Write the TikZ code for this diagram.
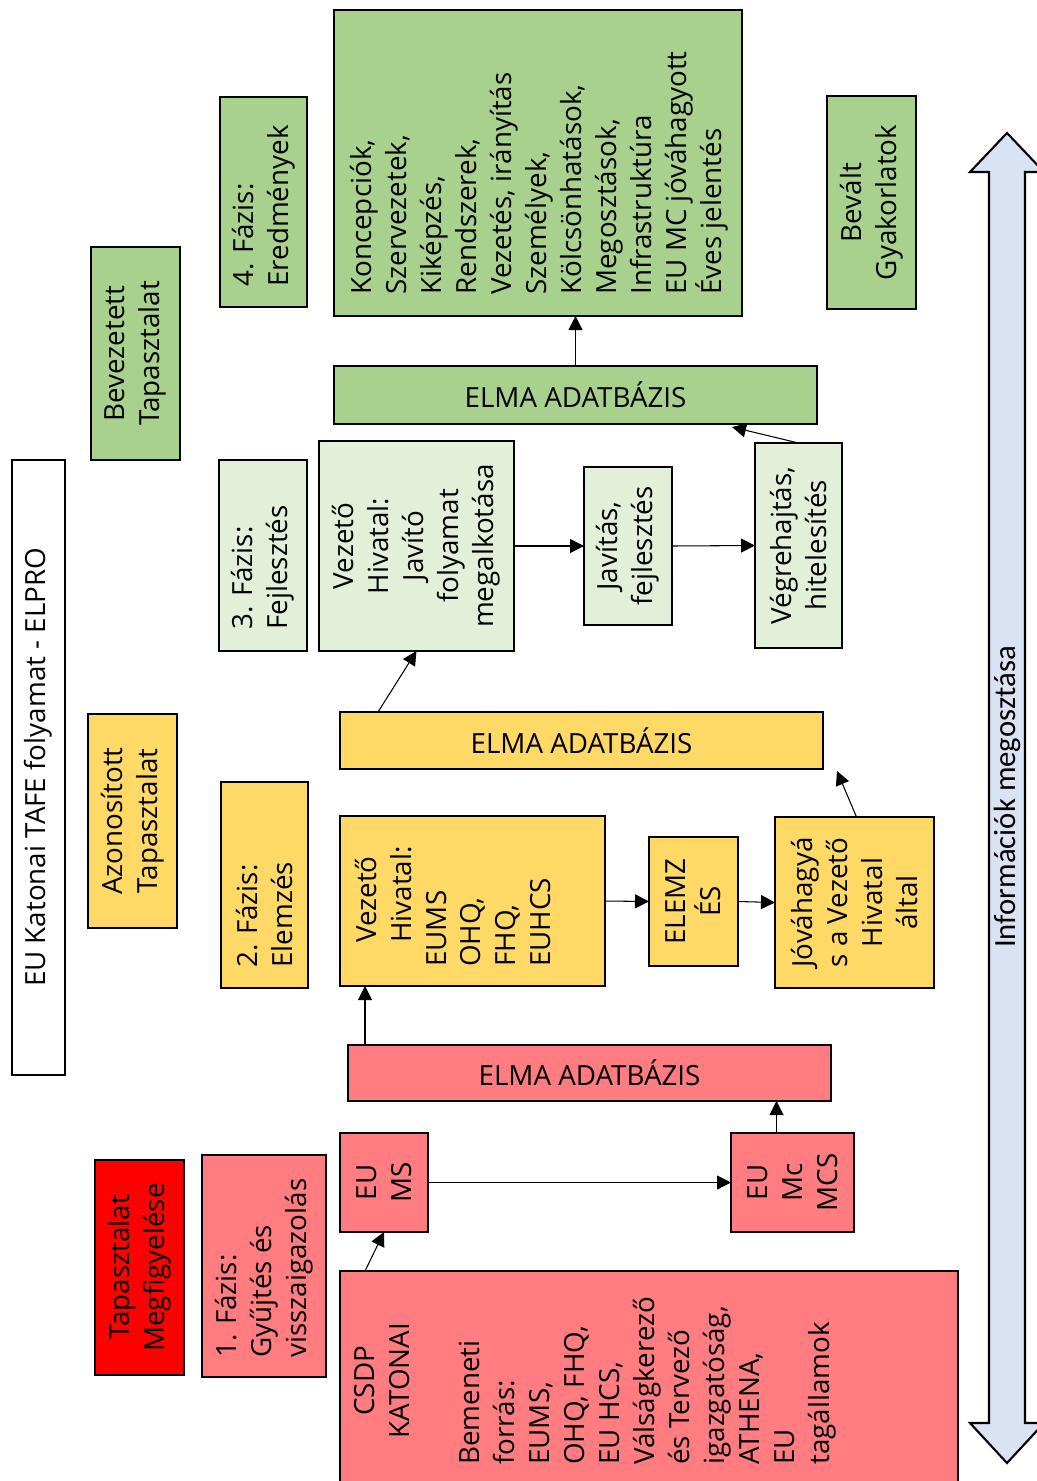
\documentclass[tikz,border=0pt]{standalone}
\usepackage{fontspec}
\setmainfont{Open Sans}
\newfontfamily\labelfont{Carlito}
\usetikzlibrary{arrows.meta,calc,fit}
\definecolor{cRed}{HTML}{FF0000}
\definecolor{cSalmon}{HTML}{FF7C80}
\definecolor{cGold}{HTML}{FFD966}
\definecolor{cGreen}{HTML}{A9D18E}
\definecolor{cPale}{HTML}{E2F0D9}
\definecolor{cBlue}{HTML}{DAE3F3}
\begin{document}
\begin{tikzpicture}[x=0.02cm,y=-0.02cm,
  box/.style={draw=black,line width=1.35pt,inner sep=0pt,outer sep=0pt},
  vt/.style={rotate=90,inner sep=0pt,font=\fontsize{15.8}{19.9}\selectfont},
  ht/.style={inner sep=0pt,font=\fontsize{15.8}{19.9}\selectfont},
  arr/.style={line width=0.6pt,-{Triangle[length=0.28cm,width=0.28cm]}},
]
\useasboundingbox (0,0) rectangle (1037,1481);
\clip (0,0) rectangle (1037,1481);

% information sharing double arrow
\draw[line width=1.2pt,fill=cBlue,line join=miter]
  (1007,133) -- (1044,172) -- (1025,172) -- (1025,1423) -- (1044,1423)
  -- (1007,1463) -- (970,1423) -- (989,1423) -- (989,172) -- (970,172) -- cycle;
\node[rotate=90,inner sep=0pt,font=\labelfont\fontsize{17.5}{20}\selectfont] (info) at (1007,797) {Információk megosztása};

% title
\node[box,fill=white,fit={(12,460)(65,1075)}] (title) {};
\node[vt] (title-t) at (title.center) {EU Katonai TAFE folyamat - ELPRO};

% phase 1 (red)
\node[box,fill=cRed,fit={(95,1160)(184,1375)}] (megf) {};
\node[vt,align=center] (megf-t) at (megf.center) {Tapasztalat\\Megfigyelése};
\node[box,fill=cSalmon,fit={(202,1155)(326,1377)}] (f1) {};
\node[vt,anchor=west,align=left] (f1-t) at (264,1358) {1. Fázis:\\Gyűjtés és\\visszaigazolás};
\node[box,fill=cSalmon,fit={(340,1271)(958,1500)}] (csdp) {};
\node[vt,anchor=west] (csdp-t) at (595,1465) {\begin{tabular}{@{}l@{}}
\multicolumn{1}{@{}c@{}}{CSDP}\\
\multicolumn{1}{@{}c@{}}{KATONAI}\\[0pt]
\\
Bemeneti\\
forrás:\\
EUMS,\\
OHQ, FHQ,\\
EU HCS,\\
Válságkerező\\
és Tervező\\
igazgatóság,\\
ATHENA,\\
EU\\
tagállamok
\end{tabular}};
\node[box,fill=cSalmon,fit={(340,1133)(428,1232)}] (eums) {};
\node[vt,align=center] (eums-t) at (eums.center) {EU\\MS};
\node[box,fill=cSalmon,fit={(731,1133)(854,1232)}] (eumc) {};
\node[vt,align=center] (eumc-t) at (eumc.center) {EU\\Mc\\MCS};
\node[box,fill=cSalmon,fit={(348,1045)(831,1101)}] (elma1) {};
\node[ht] (elma1-t) at (elma1.center) {ELMA ADATBÁZIS};

% phase 2 (yellow)
\node[box,fill=cGold,fit={(88,714)(177,928)}] (azon) {};
\node[vt,align=center] (azon-t) at (azon.center) {Azonosított\\Tapasztalat};
\node[box,fill=cGold,fit={(221,782)(308,988)}] (f2) {};
\node[vt,anchor=west,align=left] (f2-t) at (264.5,968) {2. Fázis:\\Elemzés};
\node[box,fill=cGold,fit={(340,816)(605,986)}] (vez2) {};
\node[vt,anchor=west,align=left] (vez2-t) at (453,967) {\hspace*{0.48cm}Vezető\\\hspace*{0.48cm}Hivatal:\\EUMS\\OHQ,\\FHQ,\\EUHCS};
\node[box,fill=cGold,fit={(649,837)(738,966)}] (elemz) {};
\node[vt,align=center] (elemz-t) at (elemz.center) {ELEMZ\\ÉS};
\node[box,fill=cGold,fit={(775,817)(934,988)}] (jova) {};
\node[vt,align=center] (jova-t) at (jova.center) {Jóváhagyá\\s a Vezető\\Hivatal\\által};
\node[box,fill=cGold,fit={(340,712)(823,769)}] (elma2) {};
\node[ht] (elma2-t) at (elma2.center) {ELMA ADATBÁZIS};

% phase 3 (pale green)
\node[box,fill=cGreen,fit={(91,247)(180,460)}] (bev) {};
\node[vt,align=center] (bev-t) at (bev.center) {Bevezetett\\Tapasztalat};
\node[box,fill=cPale,fit={(219,460)(307,651)}] (f3) {};
\node[vt,anchor=west,align=left] (f3-t) at (263,630) {3. Fázis:\\Fejlesztés};
\node[box,fill=cPale,fit={(319,441)(514,651)}] (vez3) {};
\node[vt,align=center] (vez3-t) at (vez3.center) {Vezető\\Hivatal:\\Javító\\folyamat\\megalkotása};
\node[box,fill=cPale,fit={(584,467)(672,625)}] (jav) {};
\node[vt,align=center] (jav-t) at (jav.center) {Javítás,\\fejlesztés};
\node[box,fill=cPale,fit={(755,443)(842,648)}] (veg) {};
\node[vt,align=center] (veg-t) at (veg.center) {Végrehajtás,\\hitelesítés};
\node[box,fill=cGreen,fit={(334,366)(817,424)}] (elma3) {};
\node[ht] (elma3-t) at (elma3.center) {ELMA ADATBÁZIS};

% phase 4 (green)
\node[box,fill=cGreen,fit={(220,97)(307,307)}] (f4) {};
\node[vt,anchor=west,align=left] (f4-t) at (263.5,287) {4. Fázis:\\Eredmények};
\node[box,fill=cGreen,fit={(334,10)(742,316)}] (big) {};
\node[vt,anchor=west,align=left] (big-t) at (539,295) {Koncepciók,\\Szervezetek,\\Kiképzés,\\Rendszerek,\\Vezetés, irányítás\\Személyek,\\Kölcsönhatások,\\Megosztások,\\Infrastruktúra\\EU MC jóváhagyott\\Éves jelentés};
\node[box,fill=cGreen,fit={(827,96)(916,309)}] (bevalt) {};
\node[vt,align=center] (bevalt-t) at (bevalt.center) {Bevált\\Gyakorlatok};

% connectors
\draw[arr] ($(csdp.north west)+(25,0)$) -- (eums.south);
\draw[arr] (eums.east) -- (eumc.west);
\coordinate (c1) at ($(eumc.north)+(-16,0)$);
\draw[arr] (c1) -- (c1 |- elma1.south);
\coordinate (c2) at ($(elma1.north west)+(17,0)$);
\draw[arr] (c2) -- (c2 |- vez2.south);
\draw[arr] (vez2.east) -- (elemz.west);
\draw[arr] (elemz.east) -- (jova.west);
\draw[arr] ($(jova.north)+(2,0)$) -- ($(elma2.south east)+(14,2)$);
\draw[arr] ($(elma2.north west)+(38,0)$) -- (vez3.south);
\draw[arr] (vez3.east) -- (jav.west);
\draw[arr] (jav.east) -- (veg.west);
\draw[arr] (veg.north) -- ($(elma3.south east)+(-85,3)$);
\draw[arr] (elma3.north) -- (elma3.north |- big.south);
\end{tikzpicture}
\end{document}
